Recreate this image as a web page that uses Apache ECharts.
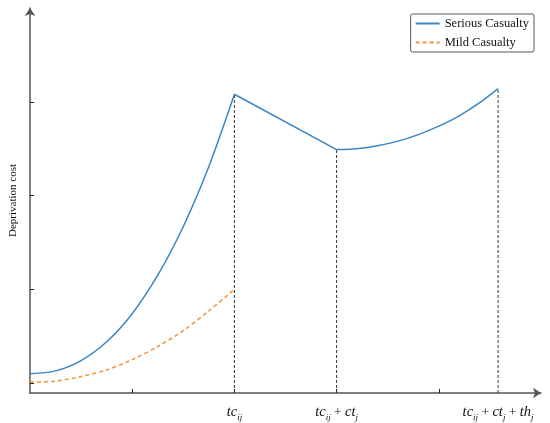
<!DOCTYPE html>
<html>
<head>
<meta charset="utf-8">
<script src="https://cdn.jsdelivr.net/npm/echarts@6/dist/echarts.min.js"></script>
<style>
  html, body { margin: 0; padding: 0; background: #fff; }
  #chart { width: 550px; height: 423px; }
</style>
</head>
<body>
<div id="chart"></div>
<script>
// values (x in tick units, y in tick units)
const riseX = [0, 0.25, 0.5, 0.75, 1, 1.25, 1.5, 1.75, 2];
const seriousRise = [0.10, 0.13, 0.24, 0.44, 0.74, 1.15, 1.67, 2.31, 3.08];
const mildRise = [0.01, 0.02, 0.07, 0.14, 0.25, 0.39, 0.56, 0.77, 1.0];
const fallX = [2, 3];
const seriousFall = [3.08, 2.49];
const lastX = [3, 3.2, 3.4, 3.6, 3.8, 4.0, 4.2, 4.4, 4.58];
const seriousLast = [2.49, 2.50, 2.53, 2.58, 2.65, 2.74, 2.85, 2.99, 3.14];

const dropX = [2, 3, 4.58];
const dropY = [3.08, 2.49, 3.14];

const xLabelValues = [2, 3, 4.58];
const xLabelTexts = [
  '{i|tc}{s|ij}',
  '{i|tc}{s|ij}{n| + }{i|ct}{s|j}',
  '{i|tc}{s|ij}{n| + }{i|ct}{s|j}{n| + }{i|th}{s|j}'
];
const xTickValues = [1, 2, 3, 4];
const yTickValues = [0, 1, 2, 3];

const yMin = -0.106, yMax = 4, xMax = 5;
const blue = '#3b86c6';
const orange = '#f7913a';
const serif = '"Liberation Serif", "DejaVu Serif", serif';

const zip = (xs, ys) => xs.map((x, i) => [x, ys[i]]);

const chart = echarts.init(document.getElementById('chart'));

const drops = dropX.map((x, i) => ({
  name: 'drop' + i,
  type: 'line',
  silent: true,
  symbol: 'none',
  data: [[x, yMin], [x, dropY[i]]],
  lineStyle: { color: '#333', width: 1, type: [3, 2] },
  z: 1
}));

chart.setOption({
  animation: false,
  grid: { left: 24, right: 9, top: 8, bottom: 30 },
  legend: {
    data: ['Serious Casualty', 'Mild Casualty'],
    orient: 'vertical',
    right: 16,
    top: 14,
    itemWidth: 24,
    itemHeight: 12,
    itemGap: 6,
    padding: [3, 5, 3, 4],
    borderColor: '#555',
    borderWidth: 1,
    borderRadius: 2,
    itemStyle: { opacity: 0 },
    textStyle: { fontFamily: serif, fontSize: 12.5, color: '#111' }
  },
  xAxis: {
    type: 'value',
    min: 0,
    max: xMax,
    splitLine: { show: false },
    axisLine: {
      onZero: false,
      symbol: ['none', 'arrow'],
      symbolSize: [8, 8],
      lineStyle: { color: '#555', width: 1.5 }
    },
    axisTick: {
      inside: true,
      length: 4,
      customValues: xTickValues,
      lineStyle: { color: '#222' }
    },
    axisLabel: {
      customValues: xLabelValues,
      margin: 9,
      formatter: v => {
        const k = xLabelValues.findIndex(t => Math.abs(t - v) < 1e-6);
        return k < 0 ? '' : xLabelTexts[k];
      },
      rich: {
        i: { fontFamily: serif, fontStyle: 'italic', fontSize: 14.5, color: '#111', lineHeight: 20 },
        s: { fontFamily: serif, fontStyle: 'italic', fontSize: 9, color: '#111', verticalAlign: 'bottom', lineHeight: 20 },
        n: { fontFamily: serif, fontSize: 13.5, color: '#111', lineHeight: 20 }
      }
    }
  },
  yAxis: {
    type: 'value',
    min: yMin,
    max: yMax,
    name: 'Deprivation cost',
    nameLocation: 'middle',
    nameRotate: 90,
    nameGap: 11,
    nameTextStyle: { fontFamily: serif, fontSize: 11, color: '#111' },
    splitLine: { show: false },
    axisLine: {
      symbol: ['none', 'arrow'],
      symbolSize: [8, 8],
      lineStyle: { color: '#555', width: 1.5 }
    },
    axisTick: {
      inside: true,
      length: 4,
      customValues: yTickValues,
      lineStyle: { color: '#222' }
    },
    axisLabel: { show: false }
  },
  series: [
    {
      name: 'Serious Casualty',
      type: 'line',
      symbol: 'none',
      smooth: 0.3,
      data: zip(riseX, seriousRise),
      lineStyle: { color: blue, width: 1.5 },
      itemStyle: { color: blue },
      z: 3
    },
    {
      name: 'Serious Casualty',
      type: 'line',
      symbol: 'none',
      data: zip(fallX, seriousFall),
      lineStyle: { color: blue, width: 1.5 },
      itemStyle: { color: blue },
      z: 3
    },
    {
      name: 'Serious Casualty',
      type: 'line',
      symbol: 'none',
      smooth: 0.3,
      data: zip(lastX, seriousLast),
      lineStyle: { color: blue, width: 1.5 },
      itemStyle: { color: blue },
      z: 3
    },
    {
      name: 'Mild Casualty',
      type: 'line',
      symbol: 'none',
      smooth: 0.3,
      data: zip(riseX, mildRise),
      lineStyle: { color: orange, width: 1.5, type: [4, 3] },
      itemStyle: { color: orange },
      z: 3
    },
    ...drops
  ]
});
window.addEventListener('resize', () => chart.resize());
</script>
</body>
</html>
